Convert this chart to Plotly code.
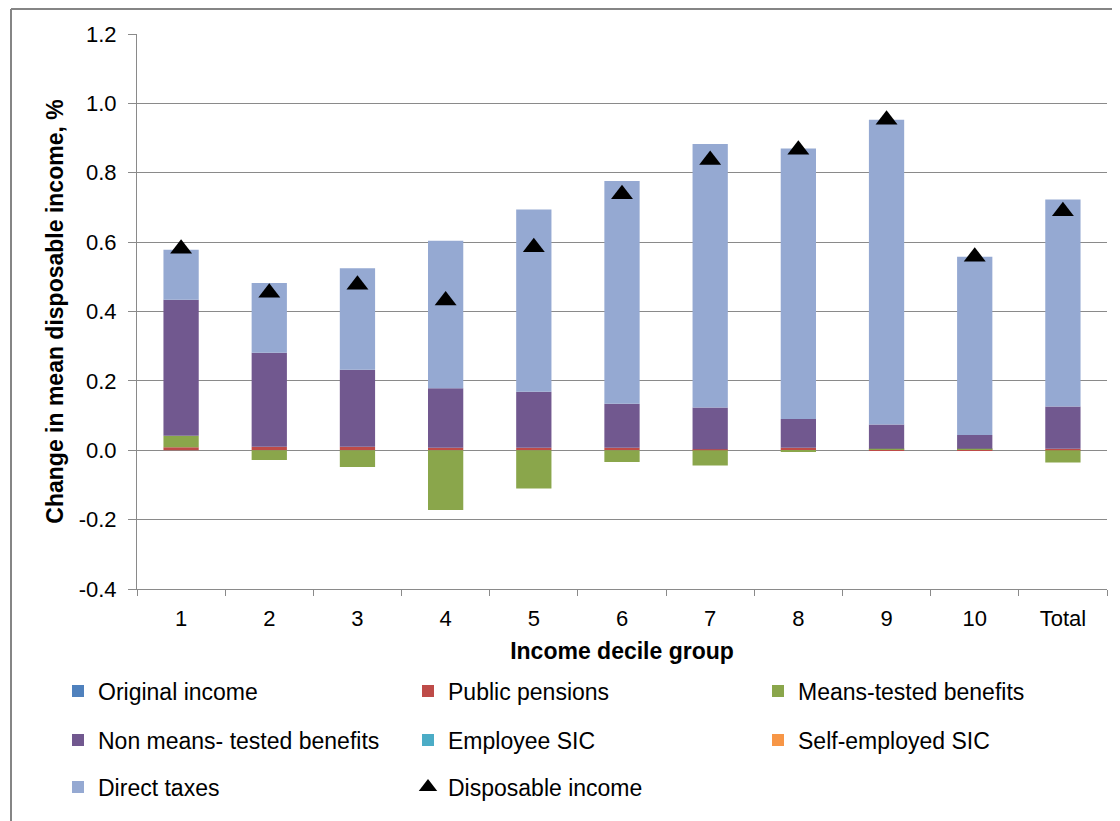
import plotly.graph_objects as go

categories = ["1", "2", "3", "4", "5", "6", "7", "8", "9", "10", "Total"]

original_income = [0, 0, 0, 0, 0, 0, 0, 0, 0, 0, 0]
public_pensions = [0.009, 0.010, 0.010, 0.007, 0.007, 0.007, 0.003, 0.007, 0.001, 0.001, 0.004]
means_tested = [0.033, -0.028, -0.048, -0.172, -0.110, -0.034, -0.044, -0.005, 0.003, 0.003, -0.035]
non_means_tested = [0.392, 0.271, 0.222, 0.172, 0.162, 0.127, 0.120, 0.083, 0.070, 0.040, 0.122]
employee_sic = [0, 0, 0, 0, 0, 0, 0, 0, 0, 0, 0]
self_employed_sic = [0, 0, 0, 0, 0, 0, 0, 0, 0, 0, 0]
direct_taxes = [0.144, 0.201, 0.293, 0.425, 0.525, 0.642, 0.760, 0.780, 0.879, 0.514, 0.597]
disposable_income = [0.581, 0.454, 0.477, 0.432, 0.585, 0.738, 0.837, 0.866, 0.953, 0.558, 0.689]

y_ticks = [-0.4, -0.2, 0.0, 0.2, 0.4, 0.6, 0.8, 1.0, 1.2]
y_tick_text = [f"{v:.1f}" for v in y_ticks]

FONT = "Liberation Sans, Arial, sans-serif"
GRID = "#8a8a8a"

series = [
    ("Original income", original_income, "#4F81BD", "legend"),
    ("Public pensions", public_pensions, "#BE4B48", "legend"),
    ("Means-tested benefits", means_tested, "#8AA64B", "legend"),
    ("Non means- tested benefits", non_means_tested, "#71588F", "legend2"),
    ("Employee SIC", employee_sic, "#4BACC6", "legend2"),
    ("Self-employed SIC", self_employed_sic, "#F79646", "legend2"),
    ("Direct taxes", direct_taxes, "#95A9D2", "legend3"),
]

fig = go.Figure()
for name, vals, color, leg in series:
    fig.add_trace(go.Bar(
        x=categories, y=vals, name=name, width=0.4,
        marker=dict(color=color, line=dict(width=0)),
        legend=leg,
    ))

fig.add_trace(go.Scatter(
    x=categories, y=disposable_income, name="Disposable income",
    mode="markers",
    marker=dict(symbol="triangle-up", size=19, color="black", line=dict(width=0)),
    legend="legend3",
))

OFF = 8  # page body margin
W, H = 1112, 813
L, R, T, B = 137 - OFF, 13, 34 - OFF, 232
pw, ph = W - L - R, H - T - B

def px_x(sx):
    return (sx - OFF - L) / pw

def px_y(sy):
    return (H - B - (sy - OFF)) / ph

leg_common = dict(
    orientation="h", xanchor="left", yanchor="middle",
    font=dict(family=FONT, size=23, color="black"),
    entrywidth=305, entrywidthmode="pixels",
    itemwidth=30, bgcolor="rgba(0,0,0,0)", traceorder="normal",
)
LEGX = px_x(58)

fig.update_layout(
    width=W, height=H,
    margin=dict(l=L, r=R, t=T, b=B, autoexpand=False),
    paper_bgcolor="white", plot_bgcolor="white",
    barmode="relative",
    font=dict(family=FONT, size=22, color="black"),
    showlegend=True,
    legend=dict(x=LEGX, y=px_y(691), **leg_common),
    legend2=dict(x=LEGX, y=px_y(740), **leg_common),
    legend3=dict(x=LEGX, y=px_y(787), **leg_common),
    xaxis=dict(
        type="category", range=[-0.5, 10.5],
        showgrid=False,
        showline=True, linecolor=GRID, linewidth=1,
        ticks="outside", tickson="boundaries", ticklen=6, tickcolor=GRID,
        ticklabelstandoff=10,
        tickfont=dict(family=FONT, size=22, color="black"),
        title=dict(text="<b>Income decile group</b>", standoff=12,
                   font=dict(family=FONT, size=23, color="black")),
    ),
    yaxis=dict(
        range=[-0.4, 1.2], tickvals=y_ticks, ticktext=y_tick_text,
        showgrid=True, gridcolor=GRID, gridwidth=1,
        zeroline=True, zerolinecolor=GRID, zerolinewidth=1,
        showline=True, linecolor=GRID, linewidth=1,
        ticks="outside", ticklen=8, tickcolor=GRID,
        ticklabelstandoff=7,
        tickfont=dict(family=FONT, size=22, color="black"),
        title=dict(text="<b>Change in mean disposable income, %</b>", standoff=8,
                   font=dict(family=FONT, size=23, color="black")),
    ),
    shapes=[
        dict(type="line", xref="paper", yref="paper",
             x0=px_x(11), x1=px_x(11), y0=px_y(840), y1=px_y(9),
             line=dict(color="#858585", width=2)),
        dict(type="line", xref="paper", yref="paper",
             x0=px_x(11), x1=px_x(1140), y0=px_y(9), y1=px_y(9),
             line=dict(color="#858585", width=2)),
    ],
)

fig.write_html("out.html")
